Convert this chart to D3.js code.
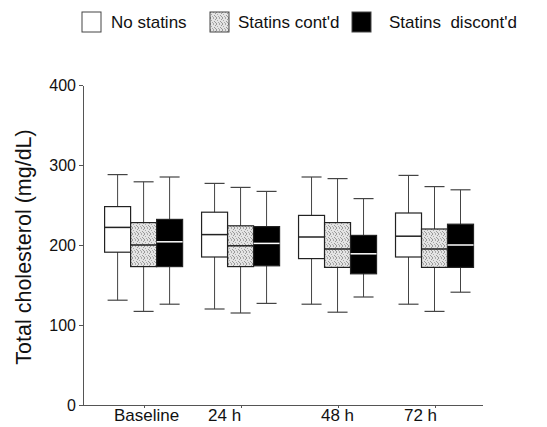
<!DOCTYPE html>
<html>
<head>
<meta charset="utf-8">
<script src="https://cdn.jsdelivr.net/npm/d3@7"></script>
<style>
body { margin: 0; background: white; }
text { font-family: "Liberation Sans", Arial, sans-serif; fill: #111; }
.axis path, .axis line { stroke: #555; shape-rendering: crispEdges; }
</style>
</head>
<body>
<script>
// time points (hours) and their labels
const hours = [0, 24, 48, 72];
const categories = ["Baseline", "24 h", "48 h", "72 h"];
const seriesNames = ["No statins", "Statins cont'd", "Statins  discont'd"];
const yTicks = [0, 100, 200, 300, 400];

// [whisker low, Q1, median, Q3, whisker high] per time point
const noStatins = [
  [131, 191, 222, 248, 288],
  [120, 185, 213, 241, 277],
  [126, 183, 210, 237, 285],
  [126, 185, 211, 240, 287]
];
const statinsCont = [
  [117, 173, 200, 228, 279],
  [115, 173, 199, 224, 272],
  [116, 172, 195, 228, 283],
  [117, 172, 195, 220, 273]
];
const statinsDiscont = [
  [126, 173, 204, 232, 285],
  [127, 174, 202, 223, 267],
  [135, 164, 189, 212, 258],
  [141, 172, 200, 226, 269]
];
const allSeries = [noStatins, statinsCont, statinsDiscont];

const W = 547, H = 427;
const svg = d3.select("body").append("svg").attr("width", W).attr("height", H);

// fine irregular stipple for "Statins cont'd"
const defs = svg.append("defs");
const pat = defs.append("pattern").attr("id", "stip")
  .attr("patternUnits", "userSpaceOnUse").attr("width", 6).attr("height", 6);
pat.append("rect").attr("width", 6).attr("height", 6).attr("fill", "#e4e4e4");
[[0,0],[3,0],[5,1],[1,2],[4,3],[2,4],[0,5],[3,5],[5,4]].forEach(([px, py], k) => {
  pat.append("rect").attr("x", px).attr("y", py).attr("width", 1).attr("height", 1)
    .attr("fill", k % 2 ? "#aaa" : "#999");
});

const fills = ["white", "url(#stip)", "black"];
const medianColor = ["#222", "#222", "white"];

const x = d3.scaleLinear().domain([-15, 84]).range([83, 483]);
const y = d3.scaleLinear().domain([0, 400]).range([405, 85]);

const boxW = 26, capW = 20;
// slight offsets of the printed x labels
const labelShift = [3, -16, 0, -14];

// axes
svg.append("g").attr("class", "axis")
  .attr("transform", "translate(83,0)")
  .call(d3.axisLeft(y).tickValues(yTicks).tickSize(4).tickSizeOuter(0).tickPadding(3))
  .call(g => g.selectAll("text").attr("font-size", 16).style("font-family", "Liberation Sans, Arial, sans-serif").attr("fill", "#111"));

svg.append("g").attr("class", "axis")
  .attr("transform", "translate(0,405)")
  .call(d3.axisBottom(x).tickValues(hours).tickSize(3).tickSizeOuter(0).tickFormat(""))
  .call(g => g.select(".domain").attr("d", `M${x.range()[0]},0.5H${x.range()[1]}`));

svg.selectAll(".xlab").data(hours).join("text")
  .attr("class", "xlab")
  .attr("x", (d, i) => x(d) + labelShift[i])
  .attr("y", 421)
  .attr("text-anchor", "middle")
  .attr("font-size", 17)
  .text((d, i) => categories[i]);

// y label
svg.append("text")
  .attr("transform", "translate(31,247) rotate(-90)")
  .attr("text-anchor", "middle")
  .attr("font-size", 21.5)
  .text("Total cholesterol (mg/dL)");

// boxes
allSeries.forEach((series, s) => {
  const g = svg.append("g");
  series.forEach((v, i) => {
    const cx = x(hours[i]) + (s - 1) * boxW;
    // whisker
    g.append("line").attr("x1", cx).attr("x2", cx).attr("y1", y(v[0])).attr("y2", y(v[4]))
      .attr("stroke", "#444").attr("stroke-width", 1);
    [v[0], v[4]].forEach(w => {
      g.append("line").attr("x1", cx - capW / 2).attr("x2", cx + capW / 2)
        .attr("y1", y(w)).attr("y2", y(w))
        .attr("stroke", "#444").attr("stroke-width", 1.2);
    });
    g.append("rect")
      .attr("x", cx - boxW / 2).attr("width", boxW)
      .attr("y", y(v[3])).attr("height", y(v[1]) - y(v[3]))
      .attr("fill", fills[s]).attr("stroke", "#222").attr("stroke-width", 1.2);
    g.append("line").attr("x1", cx - boxW / 2).attr("x2", cx + boxW / 2)
      .attr("y1", y(v[2])).attr("y2", y(v[2]))
      .attr("stroke", medianColor[s]).attr("stroke-width", 1.5);
  });
});

// legend
const legend = [
  {sx: 82, tx: 111},
  {sx: 210, tx: 238},
  {sx: 352, tx: 389}
];
legend.forEach((l, s) => {
  svg.append("rect").attr("x", l.sx).attr("y", 12).attr("width", 19).attr("height", 20)
    .attr("fill", fills[s]).attr("stroke", "#444").attr("stroke-width", 1);
  svg.append("text").attr("x", l.tx).attr("y", 28).attr("font-size", 17)
    .attr("xml:space", "preserve")
    .text(seriesNames[s]);
});
</script>
</body>
</html>
